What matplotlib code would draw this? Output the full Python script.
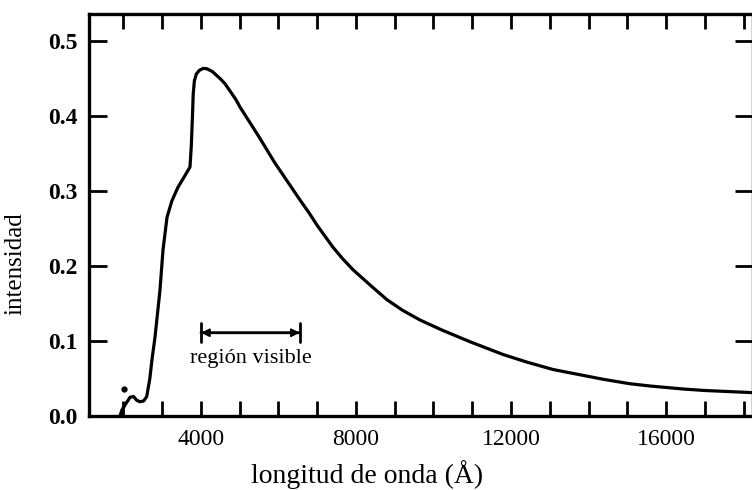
import matplotlib
matplotlib.use("Agg")
import matplotlib.pyplot as plt
from matplotlib.ticker import MultipleLocator, FormatStrFormatter

plt.rcParams['font.family'] = ['Liberation Serif', 'DejaVu Serif']

wavelength = [1910, 1960, 2080, 2170, 2260, 2340, 2425, 2520, 2600, 2680, 2735,
              2813, 2942, 3019, 3123, 3250, 3406, 3580, 3716, 3750, 3780, 3800,
              3830, 3880, 3960, 4060, 4155, 4300, 4490, 4620, 4900, 5006, 5500,
              5900, 6555, 6800, 7000, 7406, 7650, 7923, 8400, 8800, 9200, 9652,
              10200, 10942, 11794, 12400, 13084, 14374, 15070, 15587, 16440,
              17000, 18300]
intensity = [0.000, 0.008, 0.018, 0.025, 0.026, 0.021, 0.019, 0.020, 0.026, 0.050, 0.075,
             0.105, 0.168, 0.221, 0.265, 0.287, 0.305, 0.320, 0.332, 0.360, 0.400, 0.430,
             0.447, 0.456, 0.461, 0.4635, 0.463, 0.459, 0.450, 0.443, 0.422, 0.412, 0.372,
             0.338, 0.288, 0.270, 0.254, 0.225, 0.210, 0.195, 0.173, 0.155, 0.141, 0.128,
             0.115, 0.099, 0.082, 0.072, 0.062, 0.049, 0.043, 0.040, 0.036,
             0.034, 0.031]

dot_x = [2010]
dot_y = [0.036]

visible_range = [4000, 6550]
visible_label = "región visible"

fig = plt.figure(figsize=(7.52, 4.90), dpi=100)
ax = fig.add_axes([89/752, 74/490, (753-89)/752, (416-14)/490])

ax.plot(wavelength, intensity, color='black', lw=2.3, solid_capstyle='round', solid_joinstyle='round')
ax.plot(dot_x, dot_y, 'o', color='black', ms=3.5)

ax.set_xlim(1110, 18245)
ax.set_ylim(0, 0.536)

ax.xaxis.set_major_locator(MultipleLocator(4000))
ax.xaxis.set_minor_locator(MultipleLocator(1000))
ax.yaxis.set_major_locator(MultipleLocator(0.1))
ax.yaxis.set_major_formatter(FormatStrFormatter('%.1f'))

ax.tick_params(axis='x', which='both', direction='in', top=True, length=11, width=2.0,
               labelsize=17, pad=9)
ax.tick_params(axis='y', which='both', direction='in', right=True, length=13, width=2.0,
               labelsize=17, pad=8)
for lab in ax.get_yticklabels():
    lab.set_fontweight('bold')

for sp in ax.spines.values():
    sp.set_linewidth(2.4)

ax.set_xlabel('longitud de onda (Å)', fontsize=20)
ax.xaxis.set_label_coords(0.419, -0.110)
ax.set_ylabel('intensidad', fontsize=18)
ax.yaxis.set_label_coords(-0.094, 0.38)

ax.annotate('', xy=(visible_range[0], 0.111), xytext=(visible_range[1], 0.111),
            arrowprops=dict(arrowstyle='<|-|>', color='black', lw=1.4,
                            mutation_scale=12, shrinkA=0, shrinkB=0))
ax.annotate('', xy=(visible_range[0], 0.111), xytext=(visible_range[1], 0.111),
            arrowprops=dict(arrowstyle='|-|', color='black', lw=2.0,
                            mutation_scale=7, shrinkA=0, shrinkB=0))
ax.text(sum(visible_range)/2, 0.077, visible_label, ha='center', va='center', fontsize=16)

fig.savefig('out.png', dpi=100)
